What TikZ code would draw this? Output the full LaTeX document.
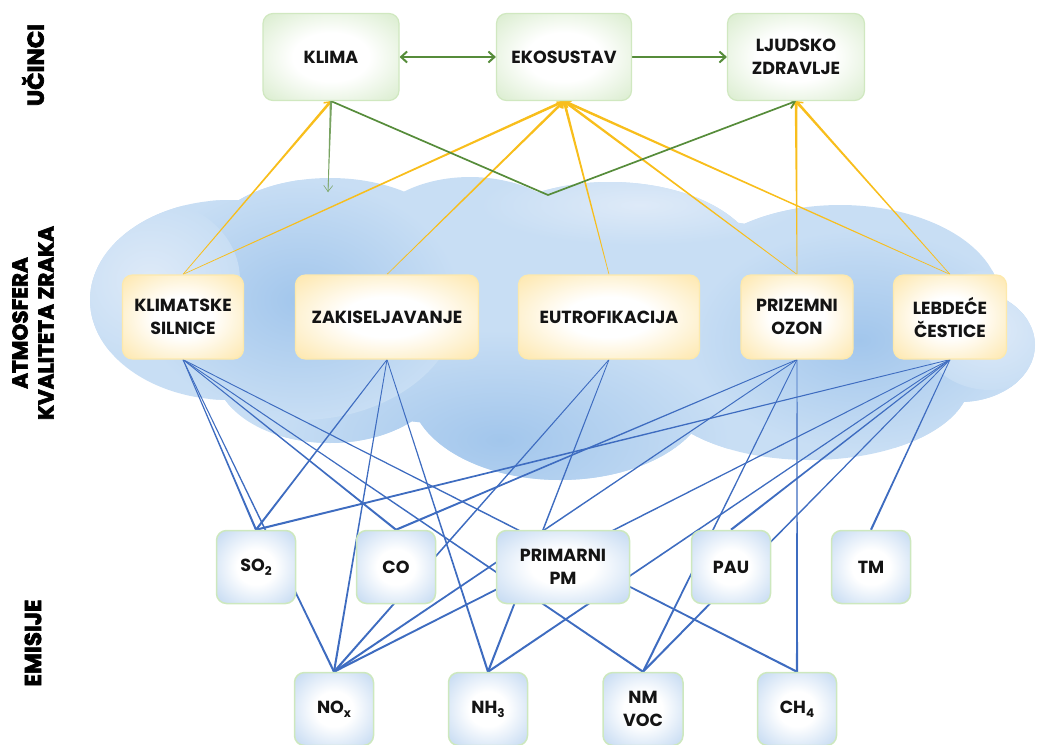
\documentclass[tikz,border=0pt]{standalone}
\usepackage{fontspec}
\setmainfont{Poppins}
\newfontfamily\boxfont{Poppins}
\newfontfamily\sidefont{Poppins}[BoldFeatures={FakeBold=3}]
\usetikzlibrary{calc,arrows.meta}
\definecolor{gfill}{RGB}{196,226,178}
\definecolor{gborder}{RGB}{208,232,192}
\definecolor{yfill}{RGB}{253,221,138}
\definecolor{yborder}{RGB}{253,233,172}
\definecolor{bfill}{RGB}{160,195,234}
\definecolor{bborder}{RGB}{205,232,190}
\definecolor{ylw}{RGB}{248,190,28}
\definecolor{blu}{RGB}{62,108,192}
\definecolor{grn}{RGB}{86,140,58}
\definecolor{txt}{RGB}{20,20,20}
\definecolor{cloudbase}{RGB}{200,222,244}
\definecolor{clouddark}{RGB}{162,198,236}
\definecolor{cloudlight}{RGB}{222,234,248}
\pgfdeclareradialshading{gshade}{\pgfpoint{0bp}{0bp}}{color(0bp)=(white); color(14bp)=(white); color(34bp)=(gfill!60!white); color(50bp)=(gfill)}
\pgfdeclareradialshading{yshade}{\pgfpoint{0bp}{0bp}}{color(0bp)=(white); color(12bp)=(white); color(32bp)=(yfill!60!white); color(50bp)=(yfill)}
\pgfdeclareradialshading{bshade}{\pgfpoint{0bp}{0bp}}{color(0bp)=(white); color(12bp)=(white); color(32bp)=(bfill!55!white); color(50bp)=(bfill)}
\pgfdeclarelayer{bg}
\pgfdeclarelayer{lns}
\pgfsetlayers{bg,lns,main}
\newcommand\taper[5]{%
  \fill[#5] ($(#1)!#3!90:(#2)$) -- ($(#2)!#4!-90:(#1)$) -- ($(#2)!#4!90:(#1)$) -- ($(#1)!#3!-90:(#2)$) -- cycle;}
\newcommand\sbs[1]{\raisebox{-0.4ex}{\fontsize{12}{12}\selectfont #1}}
\def\cloudpath{(230,300) ellipse [x radius=140pt, y radius=100pt]
  (330,248) ellipse [x radius=125pt, y radius=70pt]
  (470,250) ellipse [x radius=110pt, y radius=73pt]
  (610,267) ellipse [x radius=150pt, y radius=85pt]
  (840,300) ellipse [x radius=160pt, y radius=95pt]
  (960,345) ellipse [x radius=75pt, y radius=57pt]
  (330,370) ellipse [x radius=115pt, y radius=73pt]
  (560,390) ellipse [x radius=150pt, y radius=90pt]
  (810,380) ellipse [x radius=160pt, y radius=80pt]
  (560,320) ellipse [x radius=380pt, y radius=110pt]}
\begin{document}
\begin{tikzpicture}[x=1pt,y=-1pt,
  box/.style={rounded corners=10pt, align=center, inner sep=0pt, text=txt, font=\boxfont\bfseries\fontsize{17.5}{23}\selectfont},
  gbox/.style={box, shade, shading=gshade, draw=gborder, line width=1.2pt, minimum height=87pt},
  ybox/.style={box, shade, shading=yshade, draw=yborder, line width=1.2pt, minimum height=84pt},
  bbox/.style={box, shade, shading=bshade, draw=bborder, line width=1.5pt, minimum height=73pt, minimum width=79pt},
  gline/.style={grn, line width=2pt},
  side/.style={rotate=90, align=center, text=black, font=\sidefont\bfseries\fontsize{23}{26}\selectfont}
]
\useasboundingbox (0,0) rectangle (1038,744);

% side labels
\node[side] (lucinci) at (33,65) {UČINCI};
\node[side, font=\sidefont\bfseries\fontsize{21.5}{26}\selectfont] (latm) at (33,323) {ATMOSFERA\\KVALITETA ZRAKA};
\node[side] (lemis) at (33,643) {EMISIJE};

% top nodes
\node[gbox, minimum width=136pt] (klima) at (331,57) {KLIMA};
\node[gbox, minimum width=135pt] (eko) at (564,57) {EKOSUSTAV};
\node[gbox, minimum width=137pt] (ljz) at (796,57) {LJUDSKO\\ZDRAVLJE};

% middle nodes
\node[ybox, minimum width=121pt] (ks) at (183,317) {KLIMATSKE\\SILNICE};
\node[ybox, minimum width=183pt] (zak) at (387,317) {ZAKISELJAVANJE};
\node[ybox, minimum width=181pt] (eut) at (609,317) {EUTROFIKACIJA};
\node[ybox, minimum width=112pt] (po) at (797,317) {PRIZEMNI\\OZON};
\node[ybox, minimum width=113pt] (lc) at (950,317) {LEBDEĆE\\ČESTICE};

% emission nodes
\node[bbox] (so2) at (256,567) {SO\sbs{2}};
\node[bbox] (co) at (396,567) {CO};
\node[bbox, minimum width=133pt] (pm) at (563,567) {PRIMARNI\\PM};
\node[bbox] (pau) at (731,567) {PAU};
\node[bbox] (tm) at (871,567) {TM};
\node[bbox] (nox) at (334,709) {NO\sbs{x}};
\node[bbox] (nh3) at (488,709) {NH\sbs{3}};
\node[bbox, minimum width=80pt] (nmvoc) at (643,709) {NM\\VOC};
\node[bbox] (ch4) at (797,709) {CH\sbs{4}};

\coordinate (kdown) at (328,192);
\coordinate (bend) at (548,195);

% cloud
\begin{pgfonlayer}{bg}
  \path[fill=cloudbase] \cloudpath;
  \begin{scope}
    \clip \cloudpath;
    \shade[inner color=clouddark, outer color=cloudbase] (500,440) ellipse [x radius=230pt, y radius=110pt];
    \shade[inner color=clouddark, outer color=cloudbase] (300,300) ellipse [x radius=160pt, y radius=120pt];
    \shade[inner color=clouddark, outer color=cloudbase] (860,340) ellipse [x radius=170pt, y radius=110pt];
    \shade[inner color=cloudlight, outer color=cloudbase] (150,280) ellipse [x radius=90pt, y radius=80pt];
    \shade[inner color=cloudlight, outer color=cloudbase] (640,205) ellipse [x radius=160pt, y radius=40pt];
    \shade[inner color=cloudlight, outer color=cloudbase] (990,330) ellipse [x radius=70pt, y radius=60pt];
  \end{scope}
\end{pgfonlayer}

% connectors
\begin{pgfonlayer}{lns}
  % emissions to atmosphere
  \foreach \s/\t in {ks/so2, ks/nox, ks/co, ks/nmvoc, ks/ch4,
                     zak/so2, zak/nox, zak/nh3,
                     eut/nox, eut/nh3,
                     po/co, po/nox, po/nmvoc, po/ch4,
                     lc/so2, lc/nox, lc/nh3, lc/nmvoc, lc/pau, lc/tm} {
    \taper{\s.south}{\t.north}{0.4pt}{1.05pt}{blu}
  }
  % atmosphere to effects
  \foreach \s/\t in {ks/klima, ks/eko, zak/eko, eut/eko, po/eko, po/ljz, lc/eko, lc/ljz} {
    \taper{\s.north}{\t.south}{0.3pt}{1.3pt}{ylw}
    \draw[ylw, line width=1.5pt, -{Straight Barb[length=5pt,width=9pt]}] ($(\s.north)!0.9!(\t.south)$) -- (\t.south);
  }
  % effects
  \draw[gline, {Straight Barb[length=6pt,width=11pt]}-{Straight Barb[length=6pt,width=11pt]}] (klima.east) -- (eko.west);
  \draw[gline, -{Straight Barb[length=6pt,width=11pt]}] (eko.east) -- (ljz.west);
  \taper{klima.south}{kdown}{1.1pt}{0.3pt}{grn!80!white}
  \draw[grn!75!white, line width=0.6pt, -{Straight Barb[length=6pt,width=9pt]}] ($(klima.south)!0.8!(kdown)$) -- (kdown);
  \draw[gline, line width=1.7pt, -{Straight Barb[length=6pt,width=10pt]}] (klima.south) -- (bend) -- (ljz.south);
\end{pgfonlayer}
\end{tikzpicture}
\end{document}
